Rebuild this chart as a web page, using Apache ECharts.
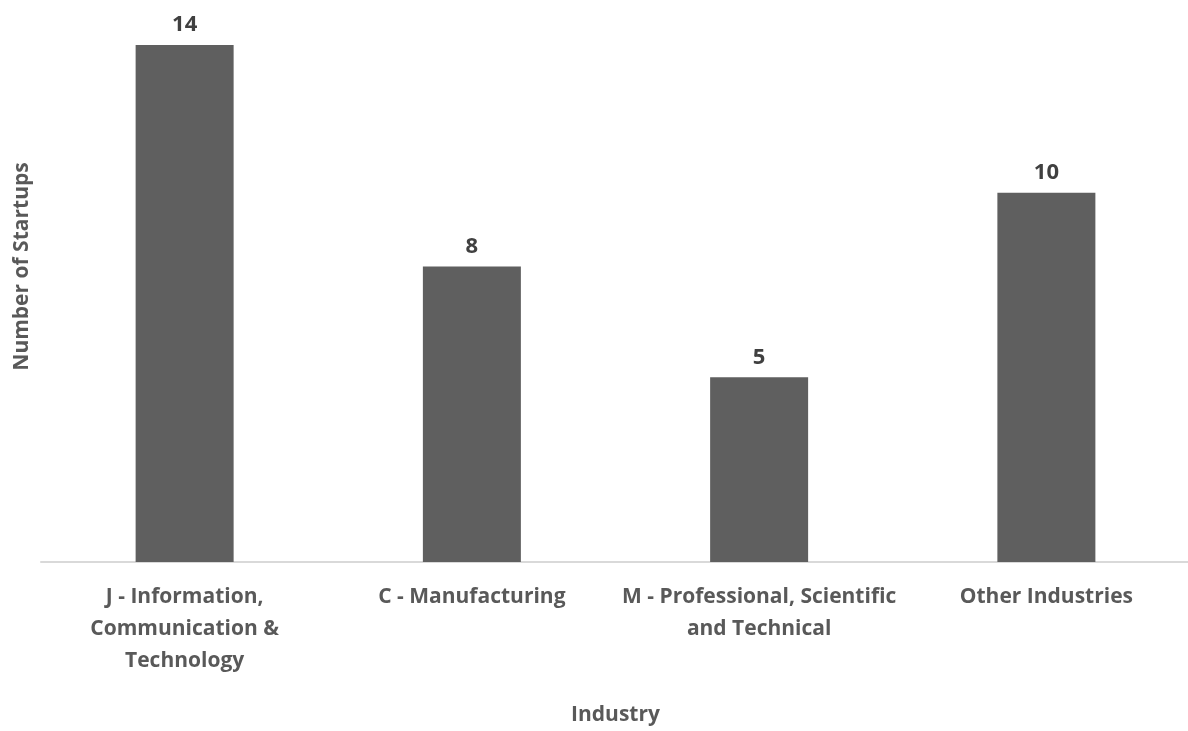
<!DOCTYPE html>
<html>
<head>
<meta charset="utf-8">
<script src="https://cdn.jsdelivr.net/npm/echarts@6/dist/echarts.min.js"></script>
<style>
  html, body { margin: 0; padding: 0; background: #ffffff; }
  #chart { width: 1188px; height: 731px; }
</style>
</head>
<body>
<div id="chart"></div>
<script>
// Startups by industry
const industries = [
  'J - Information,\nCommunication &\nTechnology',
  'C - Manufacturing',
  'M - Professional, Scientific\nand Technical',
  'Other Industries'
];
const startupCounts = [14, 8, 5, 10];

const textColor = '#595959';
const fontFamily = '"Open Sans", Lato, "Liberation Sans", sans-serif';

const chart = echarts.init(document.getElementById('chart'), null, { renderer: 'canvas' });

chart.setOption({
  animation: false,
  backgroundColor: '#ffffff',
  grid: {
    left: 41, width: 1149, top: -29, height: 591,
    containLabel: false, outerBoundsMode: 'none'
  },
  xAxis: {
    type: 'category',
    data: industries,
    name: 'Industry',
    nameLocation: 'middle',
    nameGap: 143,
    nameTextStyle: { color: textColor, fontSize: 21, fontWeight: 'bold', fontFamily },
    axisLine: { lineStyle: { color: '#d9d9d9', width: 2 } },
    axisTick: { show: false },
    axisLabel: {
      color: textColor, fontSize: 21, fontWeight: 'bold', fontFamily,
      lineHeight: 32, margin: 19, interval: 0
    }
  },
  yAxis: {
    type: 'value',
    min: 0,
    max: 16,
    name: 'Number of Startups',
    nameLocation: 'middle',
    nameGap: 8,
    nameTextStyle: { color: textColor, fontSize: 21, fontWeight: 'bold', fontFamily },
    axisLine: { show: false },
    axisTick: { show: false },
    axisLabel: { show: false },
    splitLine: { show: false }
  },
  series: [{
    type: 'bar',
    data: startupCounts,
    barWidth: 98,
    itemStyle: { color: '#5f5f5f' },
    label: {
      show: true,
      position: 'top',
      distance: 9,
      color: '#404040',
      fontSize: 22,
      fontWeight: 'bold',
      fontFamily
    }
  }]
});
</script>
</body>
</html>
